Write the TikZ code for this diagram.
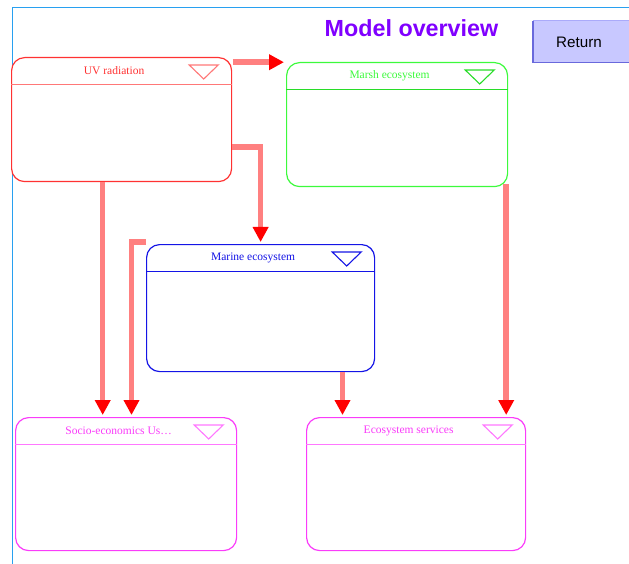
\documentclass[tikz,border=0pt]{standalone}
\usepackage{fontspec}
\setmainfont{Liberation Serif}
\newfontfamily\arialfont{Liberation Sans}
\usetikzlibrary{arrows.meta,calc}
\definecolor{frameblue}{RGB}{40,160,240}
\definecolor{uvborder}{RGB}{255,50,50}
\definecolor{uvhead}{RGB}{255,120,120}
\definecolor{marshborder}{RGB}{60,250,60}
\definecolor{marshhead}{RGB}{40,220,40}
\definecolor{marineborder}{RGB}{20,20,230}
\definecolor{marinehead}{RGB}{20,20,230}
\definecolor{socborder}{RGB}{250,60,250}
\definecolor{sochead}{RGB}{255,120,255}
\definecolor{connpink}{RGB}{255,128,128}
\definecolor{titlepurple}{RGB}{128,0,255}
\definecolor{btnfill}{RGB}{200,200,255}
\definecolor{btntop}{RGB}{170,170,250}
\definecolor{btnedge}{RGB}{105,105,220}
\newcommand\boxdeco[4]{%
  \draw[#2, line width=1.3pt] ($(#1.north west)+(0,27.5)$) -- ($(#1.north east)+(0,27.5)$);
  \draw[#2, line width=1.1pt, line join=miter] ($(#1.north east)+(-43,8)$) -- ++(29,0) -- ++(-14.5,14) -- cycle;
  \node[boxtitle, text=#4] at ($(#1.north)+(-7.5,14)$) {#3};
}
\begin{document}
\begin{tikzpicture}[x=1pt,y=-1pt,
  mbox/.style={draw, fill=white, rounded corners=13pt, line width=1.2pt, anchor=north west, inner sep=0pt},
  boxtitle/.style={inner sep=0pt, font=\fontsize{11.5}{13}\selectfont},
  conn/.style={draw=connpink, line width=5.5pt, line cap=butt, line join=miter,
    -{Triangle[length=15pt, width=15pt, color=red]}, shorten >=2pt},
]
\useasboundingbox (0,0) rectangle (629,564);
% frame
\draw[frameblue, line width=1pt] (629,7.5) -- (12,7.5) -- (12,564);
% title and button
\node[anchor=base, inner sep=0pt, text=titlepurple, font=\arialfont\bfseries\fontsize{23.3}{26}\selectfont] (title) at (411.5,36.7) {Model overview};
\node[anchor=north west, inner sep=0pt, fill=btnfill, minimum width=100pt, minimum height=41pt] (ret) at (533,21) {};
\draw[btntop, line width=1pt] (ret.north west) -- (ret.north east);
\draw[btnedge, line width=1.5pt] (ret.north west) -- (ret.south west) -- (ret.south east);
\node[inner sep=0pt, font=\arialfont\fontsize{15.2}{17}\selectfont] (rettext) at (579,42.5) {Return};
% boxes
\node[mbox, draw=uvborder, minimum width=220pt, minimum height=124pt] (uv) at (11,57) {};
\node[mbox, draw=marshborder, minimum width=221pt, minimum height=124pt] (marsh) at (286,62) {};
\node[mbox, draw=marineborder, minimum width=228pt, minimum height=127pt] (marine) at (146,244) {};
\node[mbox, draw=socborder, minimum width=221pt, minimum height=133pt] (socio) at (15,417) {};
\node[mbox, draw=socborder, minimum width=219pt, minimum height=133pt] (eco) at (306,417) {};
\boxdeco{uv}{uvhead}{UV radiation}{uvborder}
\boxdeco{marsh}{marshhead}{Marsh ecosystem}{marshborder}
\boxdeco{marine}{marinehead}{Marine ecosystem}{marineborder}
\boxdeco{socio}{sochead}{Socio-economics Us\ldots}{socborder}
\boxdeco{eco}{sochead}{Ecosystem services}{socborder}
% helper coordinates
\coordinate (uvA) at ($(uv.north east)+(0.7,5.2)$);
\coordinate (marshA) at ($(marsh.north west)+(0,0.2)$);
\coordinate (uvB) at ($(uv.south east)+(0,-35)$);
\coordinate (uvC) at ($(uv.south west)+(91.7,0)$);
\coordinate (marineA) at ($(marine.north west)+(0,-2)$);
\coordinate (socC) at ($(socio.north west)+(116.5,0)$);
\coordinate (marineB) at ($(marine.south west)+(196.5,0)$);
\coordinate (marshB) at ($(marsh.south east)+(-2,-3)$);
% connectors
\draw[conn] (uvA) -- (uvA -| marshA);
\draw[conn] (uvB) -| (marine.north);
\draw[conn] (uvC) -- (uvC |- socio.north);
\draw[conn] (marineA) -| (socC);
\draw[conn] (marineB) -- (marineB |- eco.north);
\draw[conn] (marshB) -- (marshB |- eco.north);
\end{tikzpicture}
\end{document}
